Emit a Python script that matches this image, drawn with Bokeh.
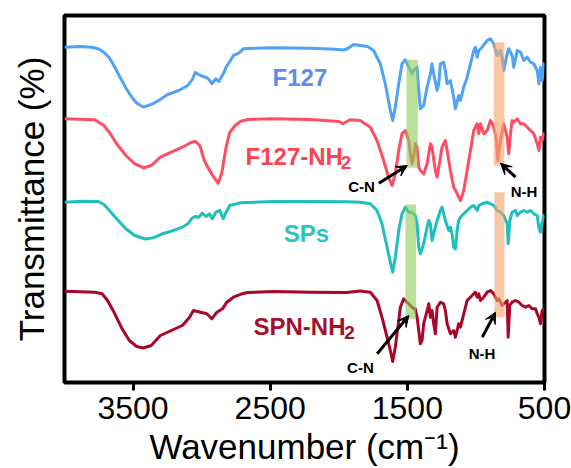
import math
from bokeh.plotting import figure
from bokeh.models import Range1d, FixedTicker, Label, Arrow, VeeHead
from bokeh.embed import file_html
from bokeh.resources import INLINE

# ---------------- data (wavenumber in cm-1, transmittance in arbitrary offset units) -------------
f127_wn = [4000, 3886, 3806, 3753, 3713, 3673, 3633, 3593, 3553, 3513, 3473, 3425, 3367, 3314, 3247,
           3167, 3101, 3066, 3047, 3008, 2960, 2941, 2926, 2896, 2875, 2854, 2841, 2822, 2782, 2768,
           2729, 2695, 2662, 2476, 2210, 2024, 1965, 1935, 1892, 1843, 1790, 1746, 1697, 1661, 1624,
           1607, 1588, 1563, 1539, 1515, 1490, 1466, 1454, 1429, 1417, 1405, 1381, 1356, 1332, 1320,
           1308, 1283, 1271, 1259, 1235, 1223, 1210, 1186, 1162, 1150, 1126, 1113, 1089, 1064, 1040,
           1016, 1004, 991, 979, 955, 918, 894, 870, 845, 821, 809, 797, 772, 761, 736, 724, 699, 675,
           651, 626, 602, 578, 553, 541, 529, 517, 505, 500]
f127_t = [335.3, 336, 335.3, 333.7, 330.3, 324.7, 315.3, 304.7, 294.7, 286, 279.3, 275.5, 278, 282, 288,
          292, 297, 303.7, 310, 307, 304.7, 302, 298.7, 303.7, 301, 306, 309, 315.3, 323.7, 327,
          329.3, 333.7, 334, 334.7, 334.3, 333.3, 332.5, 334, 338, 337, 336, 332, 318.7, 298.7, 272,
          262, 275.3, 298.7, 318.7, 322.7, 315.3, 308.7, 312, 315.3, 292, 273.7, 277, 295.3, 308.7, 318.7,
          308.7, 292, 298.7, 318.7, 320.3, 312, 298.7, 302, 285.3, 273.7, 287, 282, 295.3, 305.3, 318.7,
          332, 335.3, 325.3, 332, 335.3, 342, 343.7, 338.7, 327, 332, 325.3, 312, 328.7, 333.7, 327, 315.3,
          332, 330.3, 322, 325.3, 320.3, 318.7, 312, 298.7, 315.3, 302, 318.7, 318]

f127nh2_wn = [4000, 3779, 3713, 3673, 3620, 3553, 3487, 3420, 3367, 3301, 3221, 3141, 3088, 3048, 3013,
              2981, 2955, 2928, 2902, 2880, 2854, 2822, 2795, 2755, 2715, 2662, 2476, 2210, 2000, 1971,
              1918, 1843, 1770, 1721, 1673, 1637, 1612, 1588, 1563, 1539, 1515, 1490, 1478, 1466, 1454,
              1442, 1429, 1417, 1405, 1381, 1356, 1332, 1320, 1296, 1283, 1259, 1247, 1223, 1210, 1186,
              1162, 1137, 1113, 1089, 1064, 1040, 1016, 991, 979, 967, 943, 918, 894, 870, 850, 841, 821,
              797, 772, 761, 748, 736, 724, 699, 675, 651, 626, 602, 578, 553, 541, 529, 517, 505, 500]
f127nh2_t = [263.7, 262.7, 257, 250.3, 238.7, 227, 218.7, 214.7, 217, 225.3, 230.3, 235.3, 239.3, 241.3, 237,
             222, 215.3, 208.7, 203.7, 199.3, 208.7, 235.3, 250.3, 257, 261.3, 263, 263.7, 263, 261, 258.7,
             262.7, 262, 255.3, 242, 222, 205.3, 197, 208.7, 232, 248.7, 252, 242, 228.7, 218.7, 225.3,
             238.7, 235.3, 215.3, 212, 208.7, 218.7, 238.7, 235.3, 212, 205.3, 225.3, 235.3, 242, 232, 212,
             195.3, 188.7, 182, 192, 212, 232, 252, 258.7, 248.7, 258.7, 248.7, 252, 262, 255.3, 242, 222, 242,
             258.7, 245.3, 228.7, 248.7, 262, 260.3, 263.7, 258.7, 258.7, 255.3, 252, 248.7, 238.7, 232, 245.3,
             242, 248.7, 248]

sps_wn = [4000, 3864, 3753, 3713, 3673, 3620, 3553, 3487, 3412, 3354, 3287, 3221, 3141, 3101, 3074, 3048,
          3021, 2995, 2968, 2941, 2923, 2896, 2867, 2843, 2822, 2795, 2715, 2476, 2210, 1944, 1843, 1770,
          1721, 1685, 1648, 1624, 1607, 1588, 1563, 1539, 1515, 1490, 1466, 1442, 1429, 1417, 1405, 1381,
          1356, 1344, 1332, 1320, 1308, 1283, 1259, 1247, 1223, 1198, 1186, 1174, 1162, 1150, 1137, 1126,
          1113, 1089, 1064, 1040, 1016, 991, 979, 955, 918, 894, 870, 845, 821, 797, 772, 765, 753, 736,
          712, 699, 675, 651, 626, 602, 578, 553, 541, 529, 517, 505, 500]
sps_t = [180.3, 181.3, 181, 178, 172, 163.7, 153.7, 147, 143.5, 144.7, 148.7, 151.3, 155.3, 158.7, 163.7, 166,
         165.3, 169.3, 166, 168.7, 163.7, 170.3, 172, 163.7, 170.3, 177, 179.7, 181, 181, 180.7, 180.3, 178.7,
         172, 158.7, 135.3, 120.3, 110.3, 125.3, 152, 168.7, 175.3, 170.3, 170.3, 167, 158.7, 135.3, 128.7, 138.7,
         155.3, 162, 158.7, 142, 148.7, 162, 172, 175.3, 162, 152, 155.3, 148.7, 135.3, 133.7, 152, 162,
         165.3, 168.7, 172, 175.3, 177, 172, 177, 178.7, 180.3, 178.7, 177, 172, 170.3, 167, 158.7, 138.7, 162, 170.3,
         172, 167, 170.3, 172, 170.3, 172, 168.7, 167, 155.3, 150.3, 160.3, 167, 167]

spn_wn = [4000, 3779, 3726, 3686, 3633, 3580, 3527, 3473, 3425, 3367, 3301, 3221, 3141, 3088, 3060, 3008,
          2962, 2926, 2889, 2848, 2816, 2768, 2707, 2662, 2476, 2210, 1944, 1843, 1770, 1721, 1685, 1648,
          1624, 1607, 1588, 1572, 1551, 1527, 1502, 1478, 1454, 1442, 1429, 1405, 1393, 1381, 1356, 1344,
          1332, 1320, 1308, 1296, 1283, 1259, 1235, 1223, 1210, 1186, 1162, 1150, 1137, 1126, 1113, 1089,
          1064, 1040, 1016, 1004, 991, 979, 967, 943, 918, 894, 870, 858, 845, 833, 821, 809, 797, 772,
          765, 753, 736, 712, 687, 663, 638, 614, 590, 565, 553, 541, 529, 517, 505, 500]
spn_t = [91.3, 90.3, 88.7, 82, 68.7, 53.7, 42, 36, 34.5, 37, 47, 52, 57, 65.3, 72, 70.3,
         68.7, 63.7, 70.3, 73.7, 80.3, 85.3, 88.7, 90, 91, 90.3, 90, 91.5, 90.3, 82, 65.3, 45.3,
         32, 21, 35.3, 52, 75.3, 83.7, 80.3, 77, 73.7, 73.7, 65.3, 38.7, 42, 58.7, 72, 78.7,
         65.3, 72, 58.7, 48.7, 75.3, 80.3, 78.7, 72, 58.7, 48.7, 52, 45.3, 52, 58.7, 55.3, 68.7,
         82, 85.3, 88.7, 90.3, 85.3, 88.7, 82, 85.3, 90.3, 92, 88.7, 85.3, 82, 83.7, 80.3, 77, 78.7, 82,
         45.3, 77, 80.3, 82, 80.3, 77, 75.3, 77, 73.7, 73.7, 68.7, 65.3, 58.7, 72, 73.7, 73]

series_names = ["F127", "F127-NH2", "SPs", "SPN-NH2"]
x_ticks = [3500, 2500, 1500, 500]

# highlighted bands: C-N (green) and N-H (orange)
band_left = [1506, 870, 1514, 865]
band_right = [1424, 792, 1436, 792]
band_bottom = [214.7, 217, 63.7, 65.3]
band_top = [322.7, 340.3, 178, 190.3]
band_color = ["#8FCC55", "#F4A56E", "#8FCC55", "#F4A56E"]

# ---------------- figure ----------------
p = figure(width=571, height=468, x_range=Range1d(4000, 500), y_range=Range1d(0, 367),
           output_backend="svg", toolbar_location=None,
           min_border_left=64, min_border_right=27, min_border_top=15, min_border_bottom=86)
p.background_fill_color = "white"
p.border_fill_color = "white"
p.grid.visible = False
p.outline_line_color = "black"
p.outline_line_width = 4
p.outline_line_alpha = 1.0

ax = p.xaxis[0]
ax.ticker = FixedTicker(ticks=x_ticks)
ax.axis_line_color = None
ax.major_tick_line_width = 3
ax.major_tick_line_color = "black"
ax.major_tick_out = 8
ax.major_tick_in = 0
ax.minor_tick_out = 0
ax.minor_tick_in = 0
ax.major_label_text_font = "Liberation Sans"
ax.major_label_text_font_size = "32px"
ax.major_label_text_color = "black"
ax.major_label_standoff = 6
ax.axis_label = "Wavenumber (cm\u207b\u00b9)"
ax.axis_label_text_font = "Liberation Sans"
ax.axis_label_text_font_size = "35px"
ax.axis_label_text_font_style = "normal"
ax.axis_label_text_color = "black"
ax.axis_label_standoff = 5

yax = p.yaxis[0]
yax.ticker = FixedTicker(ticks=[])
yax.axis_line_color = None
yax.major_tick_out = 0
yax.major_tick_in = 0
yax.minor_tick_out = 0
yax.minor_tick_in = 0
yax.major_label_text_font_size = "0px"
yax.axis_label = "Transmittance (%)"
yax.axis_label_text_font = "Liberation Sans"
yax.axis_label_text_font_size = "35px"
yax.axis_label_text_font_style = "normal"
yax.axis_label_text_color = "black"
yax.axis_label_standoff = 14

line_colors = ["#4FA3F7", "#FF4D64", "#1DBFBF", "#A8072A"]
for wn, t, c in zip([f127_wn, f127nh2_wn, sps_wn, spn_wn], [f127_t, f127nh2_t, sps_t, spn_t], line_colors):
    p.line(wn, t, line_color=c, line_width=3, line_join="round")

p.quad(left=band_left, right=band_right, bottom=band_bottom, top=band_top,
       fill_color=band_color, fill_alpha=0.62, line_color=None)

# series labels
def lab(x, y, text, color, size="24px"):
    p.add_layout(Label(x=x, y=y, text=text, text_align="left", text_baseline="alphabetic",
                       text_font="Liberation Sans", text_font_style="bold",
                       text_font_size=size, text_color=color))

lab(2483, 305.5, series_names[0], "#5A8DEE")
lab(2680, 226.5, "F127-NH", "#F94452")
lab(1985, 220, "2", "#F94452", "19px")
lab(2401, 148.7, series_names[2], "#2BC4C4")
lab(2622, 56, "SPN-NH", "#A3102E")
lab(1960, 50, "2", "#A3102E", "19px")

# peak annotations
for x, y, t in [(1834, 196, "C-N"), (649, 191, "N-H"), (1842, 15, "C-N"), (956, 29.5, "N-H")]:
    p.add_layout(Label(x=x, y=y, text=t, text_align="center", text_baseline="middle",
                       text_font="Liberation Sans", text_font_style="bold",
                       text_font_size="15px", text_color="black"))

for xs, ys, xe, ye in [(1708, 199.3, 1501, 217), (711, 205.3, 821, 219.3),
                       (1720, 28.7, 1489, 67), (954, 45.3, 857, 70.3)]:
    p.add_layout(Arrow(end=VeeHead(size=11, fill_color="black", line_color="black", line_width=1),
                       x_start=xs, y_start=ys, x_end=xe, y_end=ye,
                       line_color="black", line_width=3))

open("out.html", "w").write(file_html(p, INLINE))
